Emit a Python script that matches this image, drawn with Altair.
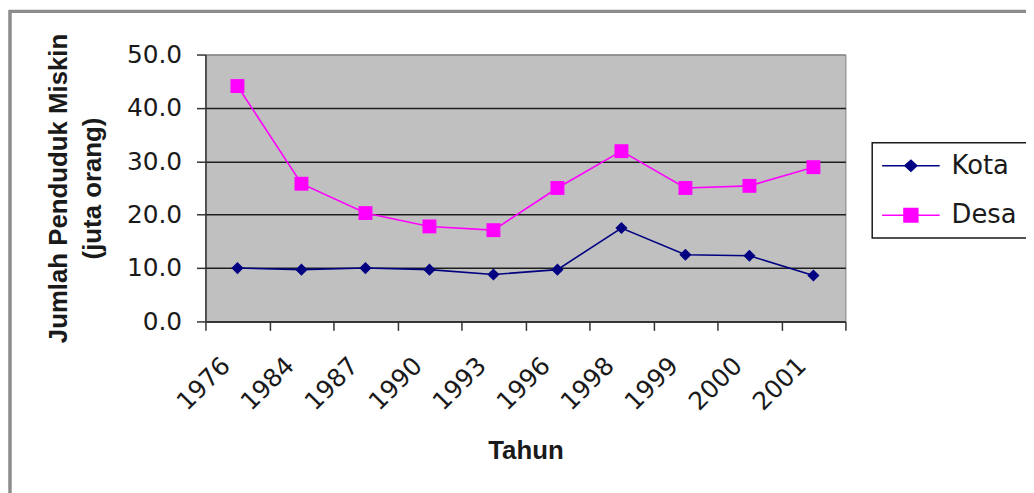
import altair as alt
import pandas as pd

years = ["1976", "1984", "1987", "1990", "1993", "1996", "1998", "1999", "2000", "2001"]
kota = [10.0, 9.7, 10.0, 9.7, 8.8, 9.7, 17.5, 12.5, 12.3, 8.6]
desa = [44.1, 25.8, 20.3, 17.8, 17.1, 25.0, 31.9, 25.0, 25.4, 28.9]
series_names = ["Kota", "Desa"]
series_colors = ["#000080", "#FF00FF"]
y_ticks = [0, 10, 20, 30, 40, 50]

rows = []
for name, vals in zip(series_names, [kota, desa]):
    for yr, v in zip(years, vals):
        rows.append({"Tahun": yr, "series": name, "value": v})
df = pd.DataFrame(rows)

W, H = 645, 269

x_enc = alt.X(
    "Tahun:O",
    sort=years,
    bandPosition=0.5,
    scale=alt.Scale(type="band", paddingInner=0, paddingOuter=0),
    axis=alt.Axis(
        title="Tahun",
        tickBand="extent",
        labelAngle=-45,
        labelAlign="right",
        labelBaseline="middle",
        labelOffset=-12,
        labelPadding=31,
        labelFont="DejaVu Sans",
        labelFontSize=25,
        labelColor="#1a1a1a",
        tickSize=9,
        tickColor="#333333",
        tickWidth=1.5,
        domainColor="#333333",
        domainWidth=1.5,
        grid=False,
        titleFont="Liberation Sans",
        titleFontSize=26,
        titleFontWeight="bold",
        titleColor="#1a1a1a",
        titleX=W / 2,
        titleY=138,
        titleAlign="center",
        titleBaseline="alphabetic",
    ),
)

y_enc = alt.Y(
    "value:Q",
    scale=alt.Scale(domain=[0, 50], nice=False),
    axis=alt.Axis(
        title=["Jumlah Penduduk Miskin", "(juta orang)"],
        values=y_ticks,
        format=".1f",
        labelFont="DejaVu Sans",
        labelFontSize=25,
        labelColor="#1a1a1a",
        labelPadding=15,
        tickSize=9,
        tickColor="#333333",
        tickWidth=1.5,
        domainColor="#333333",
        domainWidth=1.5,
        grid=True,
        gridColor={"condition": {"test": "datum.value === 50", "value": "#8c8c8c"}, "value": "#1e1e1e"},
        gridWidth=1.5,
        titleFont="Liberation Sans",
        titleFontSize=26,
        titleFontWeight="bold",
        titleColor="#1a1a1a",
        titleX=-140,
        titleY=H / 2,
        titleAlign="center",
        titleBaseline="alphabetic",
        titleLineHeight=34,
    ),
)

frame = alt.Chart(alt.Data(values=[{"a": 1}])).mark_rect(
    fill="transparent", stroke="#8c8c8c", strokeWidth=3.5
).encode(
    x=alt.value(-197), x2=alt.value(900), y=alt.value(-43.5), y2=alt.value(500)
)

layers = [frame]
shapes = {"Kota": ("diamond", 150), "Desa": ("square", 196)}
for name, col in zip(series_names, series_colors):
    sub = alt.Chart(df).transform_filter(alt.datum.series == name)
    layers.append(sub.mark_line(strokeWidth=1.6, color=col).encode(x=x_enc, y=y_enc))
    shp, sz = shapes[name]
    layers.append(sub.mark_point(shape=shp, filled=True, size=sz, color=col, opacity=1).encode(x=x_enc, y=y_enc))

path_kota = "M-2.9,0L2.9,0M-0.6,0L0,-0.55L0.6,0L0,0.55Z"
path_desa = "M-2.9,0L2.9,0M-0.7,-0.68L0.7,-0.68L0.7,0.68L-0.7,0.68Z"

leg = alt.Legend(
    orient="none",
    legendX=672,
    legendY=89,
    title=None,
    padding=10,
    strokeColor="#1a1a1a",
    fillColor="white",
    symbolSize=400,
    symbolStrokeWidth=1.5,
    symbolOffset=16,
    symbolOpacity=1,
    labelOffset=28,
    rowPadding=24,
    labelFont="DejaVu Sans",
    labelFontSize=26,
    labelColor="#1a1a1a",
    labelBaseline="middle",
)

# legend-only layer: its data is filtered away, the legend comes from the explicit scale domain
legend_layer = alt.Chart(df).transform_filter("false").mark_point(
    filled=True, size=400, strokeWidth=1.5, opacity=1
).encode(
    x=x_enc,
    y=y_enc,
    fill=alt.Fill("series:N", scale=alt.Scale(domain=series_names, range=series_colors), legend=leg),
    stroke=alt.Stroke("series:N", scale=alt.Scale(domain=series_names, range=series_colors), legend=leg),
    shape=alt.Shape("series:N", scale=alt.Scale(domain=series_names, range=[path_kota, path_desa]), legend=leg),
)
layers.append(legend_layer)

chart = alt.layer(*layers).properties(
    width=W,
    height=H,
    padding={"left": 199, "top": 45, "right": 182, "bottom": 171},
    autosize=alt.AutoSizeParams(type="none"),
    background="white",
).configure_view(
    fill="#C0C0C0", stroke="#808080", strokeWidth=1
).configure_legend(
    strokeWidth=1.5
)

chart.save("out.html", embed_options={"renderer": "svg", "actions": False})
